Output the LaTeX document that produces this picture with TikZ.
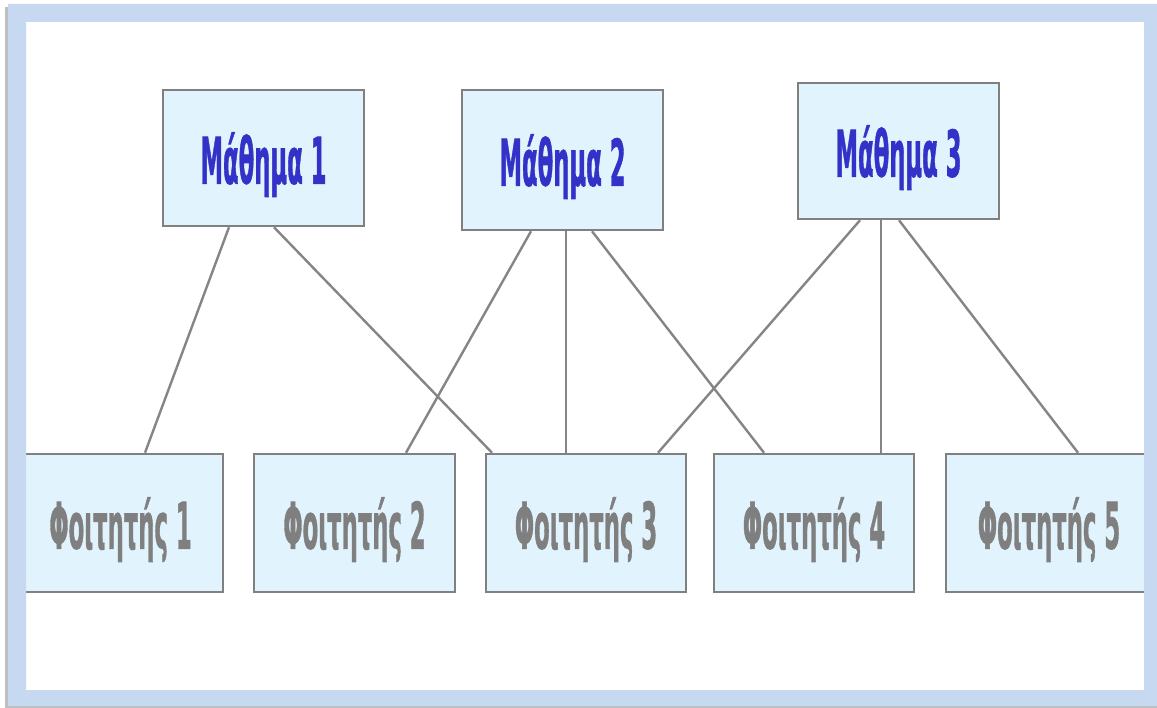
\documentclass[tikz,border=0pt]{standalone}
\usepackage{fontspec}
\setmainfont{DejaVu Sans}
\newfontfamily\lblfont{DejaVu Sans Bold}[FakeBold=1.5]
\usepackage{graphicx}
\definecolor{framebl}{HTML}{C6D9F1}
\definecolor{boxfill}{HTML}{E1F3FD}
\definecolor{boxline}{HTML}{808080}
\definecolor{linkgray}{HTML}{858585}
\definecolor{coursetext}{HTML}{3232C8}
\definecolor{studtext}{HTML}{7F7F7F}
\newcommand{\lbltxt}[1]{\raisebox{0pt}[\height][0pt]{\scalebox{0.355}[1]{\fontsize{64}{66}\lblfont #1}}}
\tikzset{
  boxbase/.style={draw=boxline, line width=2.5pt, fill=boxfill, inner sep=0pt, anchor=center},
  course/.style={boxbase, minimum width=201pt, minimum height=136pt, text=coursetext},
  stud/.style={boxbase, minimum width=200pt, minimum height=138pt, text=studtext},
  link/.style={draw=linkgray, line width=2.4pt}
}
\begin{document}
\begin{tikzpicture}[x=1pt,y=-1pt]
\useasboundingbox (0,0) rectangle (1157,708);
\fill[white] (0,0) rectangle (1157,708);
% boxes
\node[course] (M1) at (263.5,158) {\lbltxt{Μάθημα 1}};
\node[course, minimum height=140pt] (M2) at (562.5,160) {\lbltxt{Μάθημα 2}};
\node[course] (M3) at (898.5,151) {\lbltxt{Μάθημα 3}};
\node[stud, minimum width=205pt] (F1) at (120.5,523) {\lbltxt{Φοιτητής 1}};
\node[stud, minimum width=201pt] (F2) at (354.5,523) {\lbltxt{Φοιτητής 2}};
\node[stud] (F3) at (586,523) {\lbltxt{Φοιτητής 3}};
\node[stud] (F4) at (814,523) {\lbltxt{Φοιτητής 4}};
\node[stud, minimum width=206pt] (F5) at (1049,523) {\lbltxt{Φοιτητής 5}};
% links
\draw[link] ([xshift=-34.5pt]M1.south) -- ([xshift=24.5pt]F1.north);
\draw[link] ([xshift=10.5pt]M1.south) -- ([xshift=-94pt]F3.north);
\draw[link] ([xshift=-31.5pt]M2.south) -- ([xshift=51.5pt]F2.north);
\draw[link] ([xshift=3.5pt]M2.south) -- ([xshift=-20pt]F3.north);
\draw[link] ([xshift=29.5pt]M2.south) -- ([xshift=-50pt]F4.north);
\draw[link] ([xshift=-38.5pt]M3.south) -- ([xshift=72pt]F3.north);
\draw[link] ([xshift=-17.5pt]M3.south) -- ([xshift=67pt]F4.north);
\draw[link] ([xshift=0.5pt]M3.south) -- ([xshift=29pt]F5.north);
% frame
\fill[black!25] (5,7) rectangle (8,708);
\fill[black!25] (5,705) rectangle (1157,708);
\fill[framebl, even odd rule] (8,4) rectangle (1157,706) (26,22) rectangle (1144,690);
\end{tikzpicture}
\end{document}
